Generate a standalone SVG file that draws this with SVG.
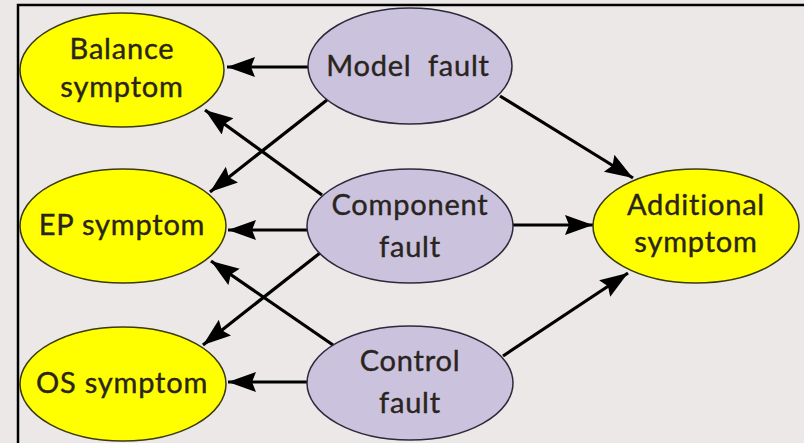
<svg xmlns="http://www.w3.org/2000/svg" width="804" height="443" viewBox="0 0 804 443">
<style>
.sym{fill:#ffff00;stroke:#3a3a10;stroke-width:1.5}
.flt{fill:#cbc3dd;stroke:#2a2a3a;stroke-width:1.5}
text{font-family:Lato,"Liberation Sans",sans-serif;font-size:29px;letter-spacing:0.8px;fill:#2a241e;stroke:#2a241e;stroke-width:0.4;text-anchor:middle}
.c line{stroke:#000;stroke-width:3.2;marker-end:url(#ah)}
</style>
<defs>
<marker id="ah" markerUnits="userSpaceOnUse" markerWidth="30" markerHeight="22" refX="28" refY="10" orient="auto">
<path d="M0,0 L28,10 L0,20 L4,10 z" fill="#000"/>
</marker>
</defs>
<rect x="0" y="0" width="804" height="443" fill="#ece8e8"/>
<path d="M18,443 V5 H804" fill="none" stroke="#000" stroke-width="2.5"/>
<g class="c" id="connectors">
<line x1="308" y1="67" x2="227" y2="67"/>
<line x1="327" y1="100" x2="210" y2="192"/>
<line x1="322" y1="195" x2="205" y2="110"/>
<line x1="307" y1="230" x2="228" y2="230"/>
<line x1="320" y1="253" x2="203" y2="345"/>
<line x1="333" y1="345" x2="211" y2="261"/>
<line x1="307" y1="382" x2="228" y2="382"/>
<line x1="500" y1="96" x2="633" y2="178"/>
<line x1="513" y1="225" x2="593" y2="225"/>
<line x1="503" y1="356" x2="628" y2="273"/>
</g>
<g id="balance"><ellipse class="sym" cx="122" cy="70" rx="102" ry="57"/><text x="122" y="59">Balance</text><text x="122" y="97">symptom</text></g>
<g id="model"><ellipse class="flt" cx="410" cy="66" rx="102" ry="58"/><text x="408" y="76" xml:space="preserve">Model  fault</text></g>
<g id="ep"><ellipse class="sym" cx="123" cy="226" rx="103" ry="57"/><text x="122" y="235">EP symptom</text></g>
<g id="component"><ellipse class="flt" cx="410" cy="226" rx="103" ry="57"/><text x="410" y="215">Component</text><text x="410" y="257">fault</text></g>
<g id="additional"><ellipse class="sym" cx="696" cy="226" rx="103" ry="57"/><text x="696" y="215">Additional</text><text x="696" y="252">symptom</text></g>
<g id="os"><ellipse class="sym" cx="123" cy="384" rx="103" ry="57"/><text x="122" y="393">OS symptom</text></g>
<g id="control"><ellipse class="flt" cx="410" cy="383" rx="103" ry="57"/><text x="410" y="371">Control</text><text x="410" y="413">fault</text></g>
</svg>
